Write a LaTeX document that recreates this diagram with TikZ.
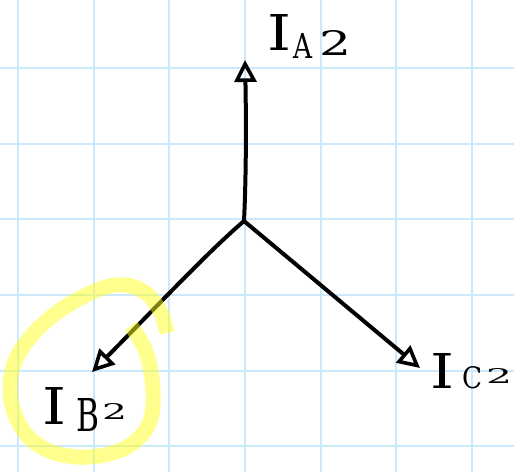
\documentclass[tikz,border=0pt]{standalone}
\usepackage{graphicx}
\usepackage{fontspec}
\setmainfont{DejaVu Serif}
\usetikzlibrary{arrows.meta}
\definecolor{gridblue}{RGB}{204,232,252}
\definecolor{hiyellow}{RGB}{255,255,30}
\newcommand{\gl}[4]{\raisebox{#3}{\resizebox{#1}{#2}{#4}}}
\tikzset{
  gridline/.style={draw=gridblue, line width=2pt},
  vec/.style={draw=black, line width=4pt, line cap=round, line join=round,
    -{Triangle[open, length=22pt, width=22pt, line width=3.6pt]}},
  lbl/.style={inner sep=0pt, anchor=base west, text=black},
  hilite/.style={draw=hiyellow, line width=15pt, opacity=0.5, line cap=butt, line join=round}
}
\begin{document}
\begin{tikzpicture}[x=1pt,y=-1pt]
\useasboundingbox (0,0) rectangle (514,472);
\fill[white] (0,0) rectangle (514,472);
% grid
\foreach \i in {0,...,6} {
  \draw[gridline] ({18+75.67*\i},0) -- ({18+75.67*\i},472);
}
\foreach \j in {0,...,5} {
  \draw[gridline] (0,{68+75.67*\j}) -- (514,{68+75.67*\j});
}
% points
\coordinate (O) at (244,221);
\coordinate (ta) at (245,60);
\coordinate (tb) at (92,372);
\coordinate (tc) at (420,368);
% labels
\node[lbl] (ia) at (267,50) {\gl{24pt}{36pt}{0pt}{I}\hspace{2pt}\gl{19pt}{25pt}{-8pt}{A}\hspace{7pt}\gl{32pt}{25pt}{-5pt}{2}};
\node[lbl] (ib) at (42,424) {\gl{24pt}{37pt}{0pt}{I}\hspace{10pt}\gl{23pt}{33pt}{-7pt}{B}\hspace{3pt}\gl{25pt}{16pt}{5pt}{2}};
\node[lbl] (ic) at (430,388) {\gl{24pt}{35pt}{0pt}{I}\hspace{8pt}\gl{20pt}{22pt}{0pt}{C}\hspace{4pt}\gl{26pt}{15pt}{5pt}{2}};
% vectors
\draw[vec] (O) .. controls (246.5,170) and (246,110) .. (ta);
\draw[vec] (O) .. controls (208,252) and (165,298) .. (tb);
\draw[vec] (O) -- (tc);
% highlighter circle
\draw[hilite] plot[smooth, tension=0.6] coordinates {
  (131,326) (146,352) (153,390) (149,424) (127,447) (90,457) (52,452)
  (25,433) (11,400) (14,364) (34,333) (65,307) (100,289) (126,285)
  (147,294) (161,313) (167,333)};
\end{tikzpicture}
\end{document}
